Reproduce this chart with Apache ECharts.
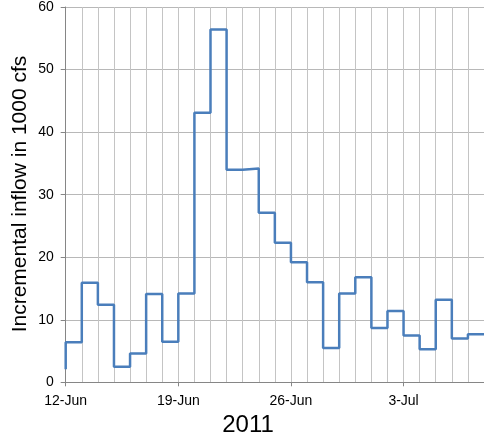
<!DOCTYPE html>
<html>
<head>
<meta charset="utf-8">
<script src="https://cdn.jsdelivr.net/npm/echarts@6/dist/echarts.min.js"></script>
<style>html,body{margin:0;padding:0;background:#fff}#c{width:484px;height:439px}</style>
</head>
<body>
<div id="c"></div>
<script>
// Day offsets from 12-Jun-2011 and the incremental inflow (1000 cfs)
var dayIndex = [0,1,2,3,4,5,6,7,8,9,10,11,12,13,14,15,16,17,18,19,20,21,22,23,24,25,26];
var inflow = [2.1,6.4,15.9,12.4,2.5,4.6,14.1,6.5,14.2,43.1,56.4,34.0,34.2,27.1,22.3,19.2,16.0,5.5,14.2,16.8,8.7,11.4,7.5,5.3,13.2,7.0,7.7];
var xTickDays = [0,7,14,21];
var xTickLabels = ['12-Jun','19-Jun','26-Jun','3-Jul'];
var yTicks = [0,10,20,30,40,50,60];
var xTitle = '2011';
var yTitle = 'Incremental inflow in 1000 cfs';

var chart = echarts.init(document.getElementById('c'), null, {renderer:'canvas'});
var font = 'Liberation Sans, Arial, sans-serif';
var grid = {left:65.7, top:6.3, width:420.5, height:376};
chart.setOption({
  animation:false,
  grid: grid,
  xAxis: [{
    type:'value', min:0, max:26, interval:1,
    axisLine:{show:false}, axisTick:{show:false}, axisLabel:{show:false},
    splitLine:{show:true, lineStyle:{color:'#c4c4c4', width:1}}
  },{
    type:'value', min:0, max:26, interval:7, position:'bottom',
    axisLine:{show:true, onZero:false, lineStyle:{color:'#868686', width:1}},
    axisTick:{show:true, length:4, inside:false, lineStyle:{color:'#868686'}},
    splitLine:{show:false},
    axisLabel:{show:true, showMaxLabel:false, margin:12, color:'#000', fontFamily:font, fontSize:14,
      formatter:function(v){var i=xTickDays.indexOf(v);return i>=0?xTickLabels[i]:'';}}
  }],
  yAxis: {
    type:'value', min:yTicks[0], max:yTicks[yTicks.length-1], interval:10,
    axisLine:{show:true, lineStyle:{color:'#868686', width:1}},
    axisTick:{show:true, length:5, lineStyle:{color:'#868686'}},
    splitLine:{show:true, lineStyle:{color:'#b8b8b8', width:1}},
    axisLabel:{margin:12, color:'#000', fontFamily:font, fontSize:14}
  },
  graphic:[
    {type:'text', x:248, y:425, style:{text:xTitle, font:'24px '+font, fill:'#000', textAlign:'center', textVerticalAlign:'middle'}},
    {type:'text', x:20, y:194, rotation:Math.PI/2, style:{text:yTitle, font:'21px '+font, fill:'#000', textAlign:'center', textVerticalAlign:'middle'}}
  ],
  series:[{
    type:'line', xAxisIndex:1, step:'start', showSymbol:false, symbol:'none',
    lineStyle:{color:'#4a7ebb', width:2.5},
    data: dayIndex.map(function(d,i){return [d, inflow[i]];})
  }]
});
</script>
</body>
</html>
